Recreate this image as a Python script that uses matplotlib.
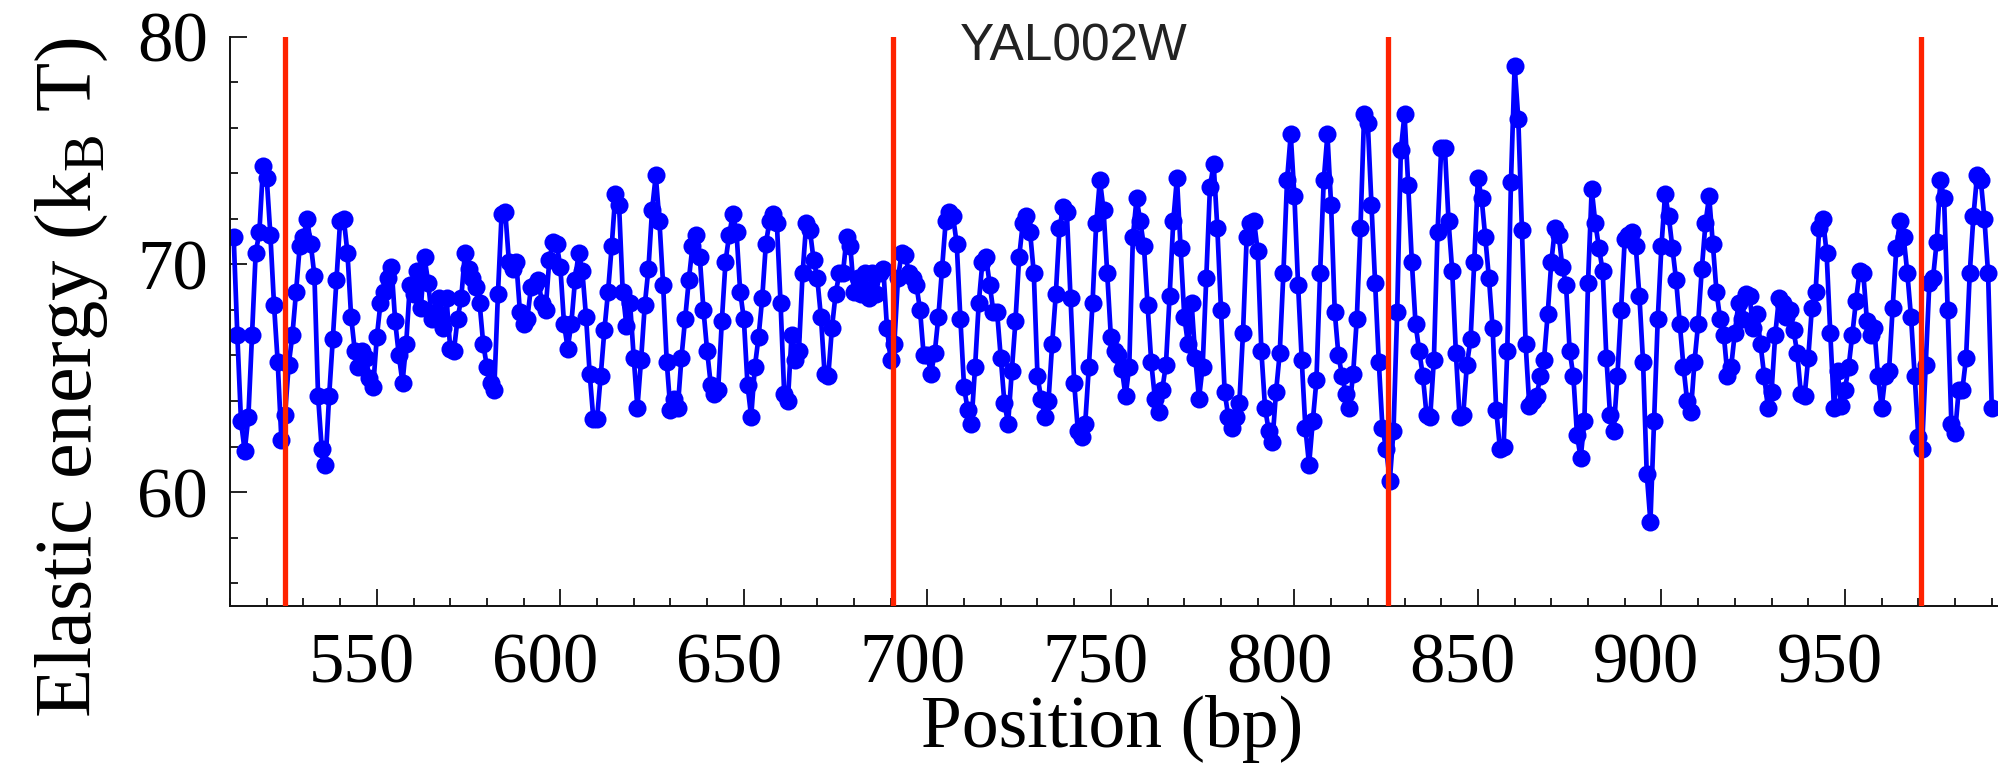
import numpy as np
import matplotlib
matplotlib.use("Agg")
import matplotlib.pyplot as plt
from matplotlib.transforms import ScaledTranslation

# Elastic energy profile along the YAL002W sequence, one value per base pair
start_bp = 511
energy = [
    71.2, 66.9, 63.1, 61.8, 63.3, 66.9, 70.5, 71.4, 74.3, 73.8,   # 511-520
    71.3, 68.2, 65.7, 62.3, 63.4, 65.6, 66.9, 68.8, 70.8, 71.2,   # 521-530
    72.0, 70.9, 69.5, 64.2, 61.9, 61.2, 64.2, 66.7, 69.3, 71.9,   # 531-540
    72.0, 70.5, 67.7, 66.2, 65.5, 66.2, 65.9, 65.0, 64.6, 66.8,   # 541-550
    68.3, 68.8, 69.4, 69.9, 67.5, 66.0, 64.8, 66.5, 69.1, 68.7,   # 551-560
    69.7, 68.1, 70.3, 69.2, 67.6, 67.9, 68.5, 67.2, 68.5, 66.3,   # 561-570
    66.2, 67.6, 68.5, 70.5, 69.8, 69.4, 69.0, 68.3, 66.5, 65.5,   # 571-580
    64.8, 64.5, 68.7, 72.2, 72.3, 70.1, 69.8, 70.1, 67.9, 67.4,   # 581-590
    67.6, 69.0, 69.1, 69.3, 68.3, 68.0, 70.2, 71.0, 70.9, 69.9,   # 591-600
    67.4, 66.3, 67.4, 69.3, 70.5, 69.7, 67.7, 65.2, 63.2, 63.2,   # 601-610
    65.1, 67.1, 68.8, 70.8, 73.1, 72.6, 68.8, 67.3, 68.3, 65.9,   # 611-620
    63.7, 65.8, 68.2, 69.8, 72.4, 73.9, 71.9, 69.1, 65.7, 63.6,   # 621-630
    64.1, 63.7, 65.9, 67.6, 69.3, 70.8, 71.3, 70.3, 68.0, 66.2,   # 631-640
    64.7, 64.3, 64.5, 67.5, 70.1, 71.3, 72.2, 71.4, 68.8, 67.6,   # 641-650
    64.7, 63.3, 65.5, 66.8, 68.5, 70.9, 71.9, 72.2, 71.8, 68.3,   # 651-660
    64.3, 64.0, 66.9, 65.8, 66.2, 69.6, 71.8, 71.5, 70.2, 69.4,   # 661-670
    67.7, 65.2, 65.1, 67.2, 68.7, 69.6, 69.6, 71.2, 70.8, 68.8,   # 671-680
    69.4, 68.7, 69.6, 68.5, 69.6, 68.7, 69.6, 69.8, 67.2, 65.8,   # 681-690
    66.5, 69.4, 70.5, 70.4, 69.6, 69.4, 69.1, 68.0, 66.0, 66.0,   # 691-700
    65.2, 66.1, 67.7, 69.8, 71.9, 72.3, 72.1, 70.9, 67.6, 64.6,   # 701-710
    63.6, 63.0, 65.5, 68.3, 70.1, 70.3, 69.1, 67.9, 67.9, 65.9,   # 711-720
    63.9, 63.0, 65.3, 67.5, 70.3, 71.8, 72.1, 71.4, 69.6, 65.1,   # 721-730
    64.1, 63.3, 64.0, 66.5, 68.7, 71.6, 72.5, 72.3, 68.5, 64.8,   # 731-740
    62.7, 62.4, 63.0, 65.5, 68.3, 71.8, 73.7, 72.4, 69.6, 66.8,   # 741-750
    66.2, 66.0, 65.4, 64.2, 65.5, 71.2, 72.9, 71.9, 70.8, 68.2,   # 751-760
    65.7, 64.1, 63.5, 64.5, 65.6, 68.6, 71.9, 73.8, 70.7, 67.7,   # 761-770
    66.5, 68.3, 65.9, 64.1, 65.5, 69.4, 73.4, 74.4, 71.6, 68.0,   # 771-780
    64.4, 63.3, 62.8, 63.3, 63.9, 67.0, 71.2, 71.8, 71.9, 70.6,   # 781-790
    66.2, 63.7, 62.7, 62.2, 64.4, 66.1, 69.6, 73.7, 75.7, 73.0,   # 791-800
    69.1, 65.8, 62.8, 61.2, 63.1, 64.9, 69.6, 73.7, 75.7, 72.6,   # 801-810
    67.9, 66.0, 65.1, 64.3, 63.7, 65.2, 67.6, 71.6, 76.6, 76.2,   # 811-820
    72.6, 69.2, 65.7, 62.8, 61.9, 60.5, 62.7, 67.9, 75.0, 76.6,   # 821-830
    73.5, 70.1, 67.4, 66.2, 65.1, 63.4, 63.3, 65.8, 71.4, 75.1,   # 831-840
    75.1, 71.9, 69.7, 66.1, 63.3, 63.4, 65.6, 66.7, 70.1, 73.8,   # 841-850
    72.9, 71.2, 69.4, 67.2, 63.6, 61.9, 62.0, 66.2, 73.6, 78.7,   # 851-860
    76.4, 71.5, 66.5, 63.8, 64.0, 64.2, 65.1, 65.8, 67.8, 70.1,   # 861-870
    71.6, 71.3, 69.9, 69.1, 66.2, 65.1, 62.5, 61.5, 63.1, 69.2,   # 871-880
    73.3, 71.8, 70.7, 69.7, 65.9, 63.4, 62.7, 65.1, 68.0, 71.1,   # 881-890
    71.3, 71.4, 70.8, 68.6, 65.7, 60.8, 58.7, 63.1, 67.6, 70.8,   # 891-900
    73.1, 72.1, 70.7, 69.3, 67.4, 65.5, 64.0, 63.5, 65.7, 67.4,   # 901-910
    69.8, 71.8, 73.0, 70.9, 68.8, 67.6, 66.9, 65.1, 65.5, 67.0,   # 911-920
    68.3, 67.6, 68.7, 68.6, 67.2, 67.8, 66.5, 65.1, 63.7, 64.4,   # 921-930
    66.9, 68.5, 68.3, 67.7, 68.0, 67.1, 66.1, 64.3, 64.2, 65.9,   # 931-940
    68.1, 68.8, 71.6, 72.0, 70.5, 67.0, 63.7, 65.3, 63.8, 64.5,   # 941-950
    65.5, 66.9, 68.4, 69.7, 69.6, 67.5, 66.9, 67.2, 65.1, 63.7,   # 951-960
    65.1, 65.3, 68.1, 70.7, 71.9, 71.2, 69.6, 67.7, 65.1, 62.4,   # 961-970
    61.9, 65.6, 69.2, 69.4, 71.0, 73.7, 72.9, 68.0, 63.0, 62.6,   # 971-980
    64.5, 64.5, 65.9, 69.6, 72.1, 73.9, 73.7, 72.0, 69.6, 63.7,   # 981-990
]
position = np.arange(start_bp, start_bp + len(energy))

# Nucleosome dyad positions marked with vertical lines
dyads = [525.0, 690.6, 825.4, 970.7]

x_ticks = [550, 600, 650, 700, 750, 800, 850, 900, 950]
y_ticks = [60, 70, 80]
gene_name = "YAL002W"

plt.rcParams["font.family"] = "Liberation Serif"
plt.rcParams["mathtext.fontset"] = "custom"
plt.rcParams["mathtext.rm"] = "Liberation Serif"

W, H = 1998, 773
fig = plt.figure(figsize=(W / 100, H / 100), dpi=100)
ax = fig.add_axes([230 / W, 1 - 606 / H, 1 - 230 / W, (606 - 36.5) / H])

ax.plot(position, energy, color="#0000ff", lw=3.4, marker="o",
        markersize=13, markeredgewidth=0, zorder=2, clip_on=True)
for d in dyads:
    ax.axvline(d, color="#ff2200", lw=3.8, zorder=3)

ax.set_xlim(510, 991.7)
ax.set_ylim(55, 80)
ax.set_xticks(x_ticks)
ax.set_yticks(y_ticks)
ax.set_xticks(np.arange(510, 992, 10), minor=True)
ax.set_yticks(np.arange(56, 80.1, 2), minor=True)

for s in ("top", "right"):
    ax.spines[s].set_visible(False)
for s in ("left", "bottom"):
    ax.spines[s].set_linewidth(1.4)
    ax.spines[s].set_color("#111111")

ax.tick_params(which="major", direction="in", length=12.5, width=1.3,
               labelsize=51, color="#111111")
ax.tick_params(which="minor", direction="in", length=6, width=1.3,
               color="#111111")
ax.tick_params(axis="x", which="major", pad=19)
ax.tick_params(axis="y", which="major", pad=16)

# x tick labels sit slightly left of their tick marks
shift = ScaledTranslation(-15 / 100, 0, fig.dpi_scale_trans)
for lab in ax.get_xticklabels():
    lab.set_transform(lab.get_transform() + shift)

fig.text(72 / W, 1 - 378 / H, r"Elastic energy (k$_{\mathrm{B}}$ T)",
         rotation=90, ha="center", va="center", fontsize=58)
fig.text(1112 / W, 1 - 729 / H, "Position (bp)",
         ha="center", va="center", fontsize=53)
fig.text(1074 / W, 1 - 47 / H, gene_name, ha="center", va="center",
         fontsize=37, family="Liberation Sans", color="#222222")

fig.savefig("out.png", dpi=100)
